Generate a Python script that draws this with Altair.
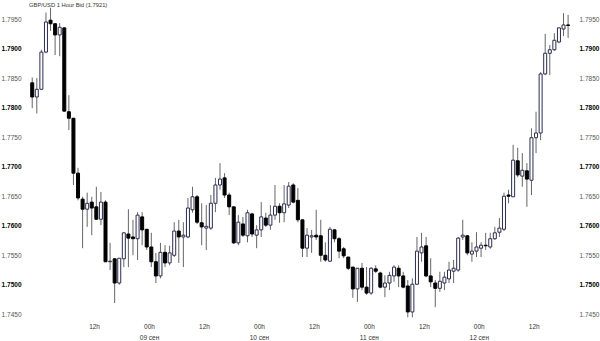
import json
import altair as alt
import pandas as pd

title_text = "GBP/USD 1 Hour Bid (1.7921)"

# hours since 07 Sep 22:00 (one candle per hour)
hours = list(range(118))

opens = [1.7842, 1.7818, 1.7831, 1.7894, 1.7948, 1.7942, 1.7923, 1.7935, 1.7793, 1.7782,
         1.7689, 1.7645, 1.7628, 1.7640, 1.7632, 1.7611, 1.7640, 1.7539, 1.7544, 1.7503,
         1.7544, 1.7586, 1.7581, 1.7578, 1.7615, 1.7594, 1.7564, 1.7539, 1.7515, 1.7555,
         1.7537, 1.7550, 1.7591, 1.7581, 1.7581, 1.7627, 1.7649, 1.7605, 1.7596, 1.7596,
         1.7638, 1.7669, 1.7681, 1.7652, 1.7632, 1.7571, 1.7603, 1.7583, 1.7620, 1.7584,
         1.7593, 1.7613, 1.7601, 1.7618, 1.7633, 1.7622, 1.7635, 1.7669, 1.7643, 1.7610,
         1.7562, 1.7581, 1.7584, 1.7583, 1.7550, 1.7540, 1.7593, 1.7578, 1.7561, 1.7547,
         1.7530, 1.7493, 1.7528, 1.7496, 1.7486, 1.7527, 1.7520, 1.7496, 1.7503, 1.7515,
         1.7528, 1.7515, 1.7498, 1.7454, 1.7501, 1.7554, 1.7566, 1.7515, 1.7503, 1.7494,
         1.7503, 1.7510, 1.7523, 1.7525, 1.7581, 1.7583, 1.7552, 1.7557, 1.7562, 1.7567,
         1.7564, 1.7578, 1.7589, 1.7594, 1.7652, 1.7649, 1.7710, 1.7684, 1.7693, 1.7677,
         1.7749, 1.7757, 1.7857, 1.7892, 1.7898, 1.7911, 1.7933, 1.7940]

highs = [1.7851, 1.7850, 1.7898, 1.7961, 1.7969, 1.7943, 1.7943, 1.7936, 1.7821, 1.7782,
         1.7698, 1.7649, 1.7656, 1.7649, 1.7666, 1.7657, 1.7643, 1.7571, 1.7545, 1.7545,
         1.7589, 1.7628, 1.7610, 1.7623, 1.7623, 1.7594, 1.7588, 1.7554, 1.7571, 1.7567,
         1.7566, 1.7606, 1.7610, 1.7606, 1.7647, 1.7666, 1.7652, 1.7638, 1.7635, 1.7652,
         1.7681, 1.7706, 1.7689, 1.7656, 1.7632, 1.7618, 1.7615, 1.7627, 1.7622, 1.7601,
         1.7640, 1.7622, 1.7635, 1.7669, 1.7638, 1.7669, 1.7674, 1.7672, 1.7664, 1.7610,
         1.7596, 1.7593, 1.7627, 1.7610, 1.7572, 1.7598, 1.7594, 1.7581, 1.7564, 1.7547,
         1.7530, 1.7528, 1.7537, 1.7530, 1.7530, 1.7533, 1.7522, 1.7516, 1.7522, 1.7533,
         1.7533, 1.7522, 1.7508, 1.7511, 1.7581, 1.7588, 1.7581, 1.7545, 1.7508, 1.7522,
         1.7522, 1.7539, 1.7542, 1.7581, 1.7610, 1.7584, 1.7572, 1.7589, 1.7572, 1.7588,
         1.7588, 1.7598, 1.7613, 1.7656, 1.7661, 1.7737, 1.7732, 1.7723, 1.7706, 1.7765,
         1.7793, 1.7860, 1.7925, 1.7906, 1.7926, 1.7936, 1.7960, 1.7957]

lows = [1.7799, 1.7790, 1.7830, 1.7892, 1.7930, 1.7889, 1.7887, 1.7793, 1.7762, 1.7669,
        1.7643, 1.7562, 1.7598, 1.7584, 1.7610, 1.7601, 1.7539, 1.7525, 1.7469, 1.7500,
        1.7530, 1.7530, 1.7550, 1.7542, 1.7567, 1.7559, 1.7530, 1.7503, 1.7511, 1.7530,
        1.7533, 1.7547, 1.7537, 1.7530, 1.7579, 1.7622, 1.7603, 1.7567, 1.7559, 1.7593,
        1.7623, 1.7661, 1.7647, 1.7618, 1.7569, 1.7567, 1.7581, 1.7572, 1.7581, 1.7562,
        1.7581, 1.7598, 1.7593, 1.7610, 1.7605, 1.7606, 1.7630, 1.7638, 1.7606, 1.7547,
        1.7547, 1.7554, 1.7576, 1.7539, 1.7539, 1.7539, 1.7572, 1.7545, 1.7545, 1.7525,
        1.7478, 1.7471, 1.7491, 1.7483, 1.7483, 1.7520, 1.7494, 1.7479, 1.7491, 1.7505,
        1.7496, 1.7494, 1.7445, 1.7445, 1.7500, 1.7539, 1.7513, 1.7496, 1.7462, 1.7488,
        1.7491, 1.7503, 1.7503, 1.7522, 1.7576, 1.7550, 1.7539, 1.7547, 1.7547, 1.7559,
        1.7561, 1.7576, 1.7581, 1.7591, 1.7638, 1.7649, 1.7682, 1.7666, 1.7632, 1.7652,
        1.7723, 1.7745, 1.7855, 1.7855, 1.7896, 1.7909, 1.7921, 1.7918]

closes = [1.7818, 1.7831, 1.7894, 1.7945, 1.7942, 1.7923, 1.7936, 1.7794, 1.7782, 1.7689,
          1.7647, 1.7628, 1.7638, 1.7630, 1.7611, 1.7640, 1.7539, 1.7540, 1.7503, 1.7545,
          1.7588, 1.7579, 1.7578, 1.7618, 1.7593, 1.7564, 1.7539, 1.7515, 1.7555, 1.7537,
          1.7554, 1.7591, 1.7581, 1.7584, 1.7630, 1.7649, 1.7606, 1.7598, 1.7599, 1.7638,
          1.7669, 1.7679, 1.7652, 1.7632, 1.7571, 1.7606, 1.7584, 1.7622, 1.7586, 1.7593,
          1.7615, 1.7601, 1.7618, 1.7633, 1.7622, 1.7637, 1.7667, 1.7640, 1.7610, 1.7562,
          1.7584, 1.7583, 1.7581, 1.7550, 1.7542, 1.7594, 1.7578, 1.7557, 1.7549, 1.7528,
          1.7493, 1.7528, 1.7496, 1.7486, 1.7528, 1.7523, 1.7496, 1.7503, 1.7516, 1.7530,
          1.7515, 1.7496, 1.7454, 1.7501, 1.7557, 1.7564, 1.7515, 1.7505, 1.7494, 1.7506,
          1.7513, 1.7525, 1.7528, 1.7579, 1.7584, 1.7554, 1.7557, 1.7564, 1.7567, 1.7566,
          1.7578, 1.7588, 1.7596, 1.7650, 1.7650, 1.7711, 1.7686, 1.7694, 1.7679, 1.7749,
          1.7757, 1.7857, 1.7892, 1.7898, 1.7914, 1.7935, 1.7940, 1.7939]

x_tick_hours = [14, 26, 38, 50, 62, 74, 86, 98, 110]
x_tick_labels = [["12h"], ["00h", "09 сен"], ["12h"], ["00h", "10 сен"], ["12h"],
                 ["00h", "11 сен"], ["12h"], ["00h", "12 сен"], ["12h"]]
y_ticks = [1.745, 1.750, 1.755, 1.760, 1.765, 1.770, 1.775, 1.780, 1.785, 1.790, 1.795]

df = pd.DataFrame({"hour": hours, "open": opens, "high": highs, "low": lows, "close": closes})

FONT = "Liberation Sans"
x_scale = alt.Scale(domain=[-0.64, 118.57], nice=False, zero=False)
y_scale = alt.Scale(domain=[1.74404, 1.79822], nice=False, zero=False)

label_expr = (json.dumps(x_tick_labels, ensure_ascii=False)
              + "[indexof(" + json.dumps(x_tick_hours) + ", datum.value)]")

x_axis = alt.Axis(values=x_tick_hours, labelExpr=label_expr, title=None, ticks=False,
                  domain=False, grid=False, labelFont=FONT, labelFontSize=6.5,
                  labelColor="#333333", labelPadding=3, labelLineHeight=11,
                  labelFlush=False, labelOverlap=False)

bold_test = "round(datum.value * 1000) % 10 == 0"
weight_cond = {"condition": {"test": bold_test, "value": "bold"}, "value": "normal"}
color_cond = {"condition": {"test": bold_test, "value": "#000000"}, "value": "#555555"}


def y_axis(orient):
    return alt.Axis(orient=orient, values=y_ticks, format=".4f", title=None, ticks=False,
                    domain=False, grid=False, labelFont=FONT, labelFontSize=6.5,
                    labelFontWeight=weight_cond, labelColor=color_cond, labelPadding=1,
                    labelFlush=False, labelOverlap=False)


base = alt.Chart(df).transform_calculate(t="datum.hour + 0.5")

wicks = base.mark_rule(color="#666666", strokeWidth=1).encode(
    x=alt.X("t:Q", scale=x_scale, axis=x_axis),
    y=alt.Y("low:Q", scale=y_scale, axis=y_axis("left")),
    y2="high:Q",
)

up_test = "datum.close >= datum.open"
bodies = base.mark_bar(size=3, strokeWidth=1).encode(
    x=alt.X("t:Q", scale=x_scale, axis=x_axis),
    y=alt.Y("open:Q", scale=y_scale, axis=y_axis("right")),
    y2="close:Q",
    fill=alt.condition(up_test, alt.value("#ffffff"), alt.value("#000000")),
    stroke=alt.condition(up_test, alt.value("#2c2c50"), alt.value("#000000")),
)

title_layer = alt.Chart(pd.DataFrame({"label": [title_text]})).mark_text(
    align="left", baseline="middle", font=FONT, fontSize=5.8, color="#333333"
).encode(x=alt.value(7), y=alt.value(5), text="label:N")

chart = alt.layer(wicks, bodies, title_layer).resolve_axis(y="independent").properties(
    width=556, height=320,
    padding={"left": 22, "right": 22, "top": 0, "bottom": 21},
    autosize=alt.AutoSizeParams(type="none"),
    background="#ffffff",
).configure_view(stroke=None)

chart.save("out.html", embed_options={"renderer": "svg", "actions": False})
